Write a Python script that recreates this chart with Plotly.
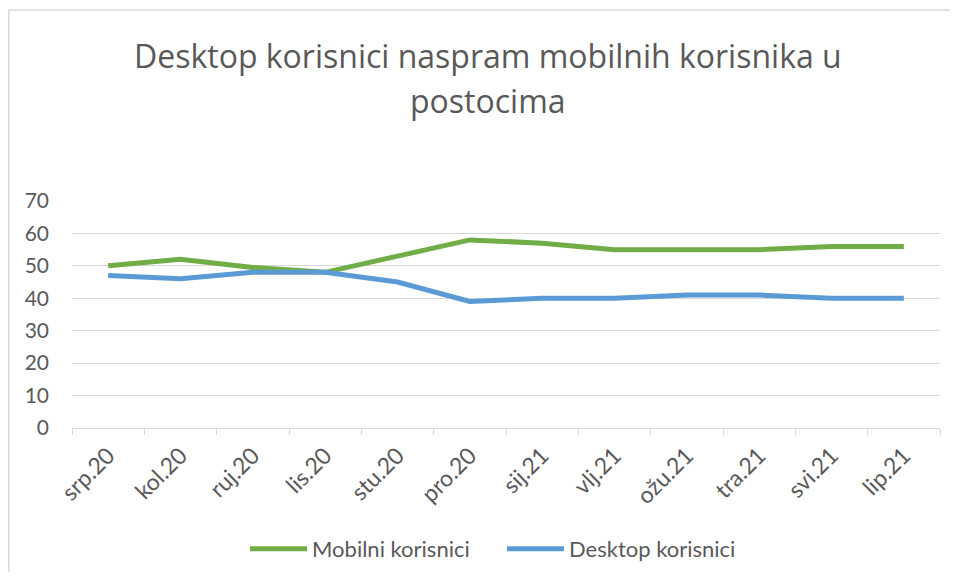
import plotly.graph_objects as go

months = ["srp.20", "kol.20", "ruj.20", "lis.20", "stu.20", "pro.20",
          "sij.21", "vlj.21", "ožu.21", "tra.21", "svi.21", "lip.21"]
mobilni = [50, 52, 49.5, 48, 53, 58, 57, 55, 55, 55, 56, 56]
desktop = [47, 46, 48, 48, 45, 39, 40, 40, 41, 41, 40, 40]
y_ticks = [0, 10, 20, 30, 40, 50, 60, 70]
title_lines = ["Desktop korisnici naspram mobilnih korisnika u", "postocima"]

GRAY = "#595959"
FONT = "Lato"
OFF = 8  # page body margin
W, H = 958 - 2 * OFF, 582 - 2 * OFF - 2
L, R, T, B = 72 - OFF, (958 - OFF) - 940, 201 - OFF, (582 - OFF - 2) - 428
PW, PH = W - L - R, H - T - B

def py_(py):
    """screen px (y) -> paper"""
    return (H - B - (py - OFF)) / PH

def px_(px):
    """screen px (x) -> paper"""
    return (px - OFF - L) / PW

fig = go.Figure()
fig.add_trace(go.Scatter(x=months, y=mobilni, mode="lines", name="Mobilni korisnici",
                         line=dict(color="#70AD47", width=5)))
fig.add_trace(go.Scatter(x=months, y=desktop, mode="lines", name="Desktop korisnici",
                         line=dict(color="#5B9BD5", width=5)))

fig.update_layout(
    width=W, height=H,
    margin=dict(l=L, r=R, t=T, b=B, autoexpand=False),
    paper_bgcolor="white", plot_bgcolor="white",
    showlegend=True,
    legend=dict(orientation="h", x=px_(502), xanchor="center",
                y=py_(549), yanchor="middle",
                font=dict(family=FONT, size=22, color=GRAY), itemwidth=57,
                entrywidth=185, entrywidthmode="pixels",
                traceorder="normal", bgcolor="rgba(0,0,0,0)"),
    font=dict(family=FONT, color=GRAY),
)
for txt, py in zip(title_lines, [56, 101]):
    fig.add_annotation(text=txt, xref="paper", yref="paper",
                       x=px_(488), y=py_(py),
                       xanchor="center", yanchor="middle", showarrow=False,
                       font=dict(family="Open Sans", size=32, color=GRAY))

fig.update_xaxes(
    type="category", showgrid=False, showline=True, linecolor="#D9D9D9", linewidth=1,
    ticks="outside", tickson="boundaries", ticklen=6, tickcolor="#D9D9D9",
    tickangle=-45, ticklabelstandoff=4, tickfont=dict(family=FONT, size=23, color=GRAY),
    range=[-0.5, len(months) - 0.5], automargin=False,
)
fig.update_yaxes(
    range=[0, 70], tickvals=y_ticks, showgrid=True, gridcolor="#D9D9D9", gridwidth=1,
    zeroline=False, showline=False, ticks="", ticklen=0, ticklabelstandoff=22,
    tickfont=dict(family=FONT, size=21, color=GRAY), automargin=False,
)

# outer chart frame (decorative): left and top edges, kept inside the figure
x_left, x_right = px_(8.75), px_(OFF + W)
y_top, y_bot = py_(10), py_(OFF + H)
fig.add_shape(type="line", xref="paper", yref="paper",
              x0=x_left, x1=x_left, y0=y_top, y1=y_bot,
              line=dict(color="#D9D9D9", width=1.5), layer="below")
fig.add_shape(type="line", xref="paper", yref="paper",
              x0=x_left, x1=x_right, y0=y_top, y1=y_top,
              line=dict(color="#D9D9D9", width=1.5), layer="below")

fig.write_html("out.html")
